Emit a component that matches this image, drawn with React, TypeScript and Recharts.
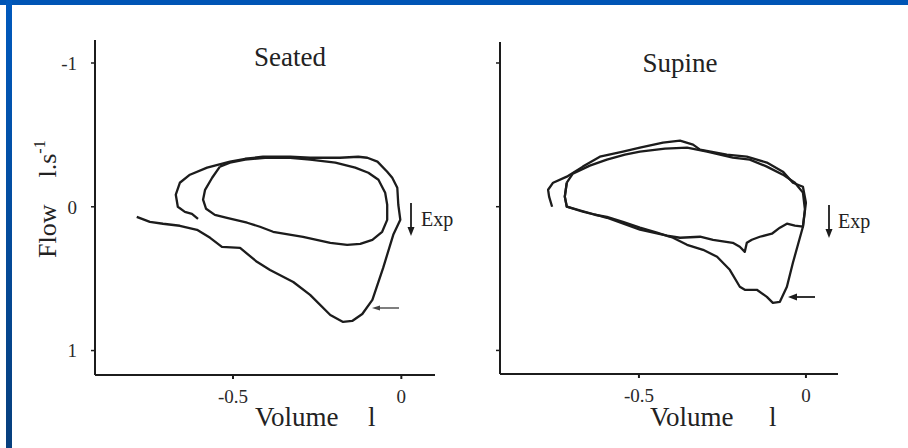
import React from "react";
import { ScatterChart, Scatter, XAxis, YAxis } from "recharts";

// flow-volume loops, [volume l, flow l/s] (expiration = positive, drawn downward)
const seatedMax: [number, number][] = [
  [-0.786, 0.07], [-0.747, 0.105], [-0.708, 0.118], [-0.658, 0.132], [-0.607, 0.16],
  [-0.568, 0.216], [-0.533, 0.279], [-0.479, 0.286], [-0.429, 0.383], [-0.39, 0.439],
  [-0.321, 0.523], [-0.271, 0.613], [-0.211, 0.753], [-0.173, 0.801], [-0.146, 0.794],
  [-0.116, 0.746], [-0.086, 0.648], [-0.054, 0.425], [-0.024, 0.195], [-0.003, 0.091],
  [-0.009, -0.014], [-0.012, -0.132], [-0.027, -0.202], [-0.042, -0.244], [-0.071, -0.314],
  [-0.101, -0.341], [-0.128, -0.348], [-0.182, -0.341], [-0.271, -0.341], [-0.33, -0.348],
  [-0.411, -0.348], [-0.464, -0.334], [-0.509, -0.314], [-0.577, -0.272], [-0.628, -0.223],
  [-0.658, -0.167], [-0.67, -0.084], [-0.664, 0.0], [-0.643, 0.035], [-0.622, 0.049],
  [-0.604, 0.084],
];

const seatedTidal: [number, number][] = [
  [-0.539, -0.279], [-0.562, -0.202], [-0.583, -0.118], [-0.589, -0.049], [-0.58, 0.014],
  [-0.554, 0.056], [-0.518, 0.077], [-0.458, 0.111], [-0.42, 0.139], [-0.381, 0.174],
  [-0.292, 0.209], [-0.211, 0.251], [-0.161, 0.265], [-0.122, 0.258], [-0.086, 0.23],
  [-0.057, 0.174], [-0.042, 0.091], [-0.042, -0.014], [-0.048, -0.098], [-0.068, -0.188],
  [-0.098, -0.237], [-0.137, -0.272], [-0.196, -0.307], [-0.271, -0.328], [-0.33, -0.341],
  [-0.405, -0.341], [-0.464, -0.328], [-0.509, -0.307], [-0.539, -0.279],
];

const supineMax: [number, number][] = [
  [-0.76, 0.0], [-0.769, -0.07], [-0.772, -0.118], [-0.757, -0.167], [-0.716, -0.209],
  [-0.668, -0.279], [-0.617, -0.348], [-0.548, -0.383], [-0.497, -0.411], [-0.428, -0.446],
  [-0.377, -0.46], [-0.338, -0.432], [-0.317, -0.397], [-0.237, -0.362], [-0.177, -0.348],
  [-0.117, -0.307], [-0.069, -0.244], [-0.039, -0.167], [-0.009, -0.139], [0.0, -0.028],
  [-0.009, 0.139], [-0.024, 0.265], [-0.039, 0.39], [-0.057, 0.557], [-0.078, 0.662],
  [-0.099, 0.669], [-0.117, 0.627], [-0.147, 0.578], [-0.183, 0.578], [-0.198, 0.557],
  [-0.228, 0.439], [-0.266, 0.348], [-0.308, 0.3], [-0.356, 0.265], [-0.398, 0.216],
  [-0.446, 0.181], [-0.497, 0.146], [-0.548, 0.105], [-0.596, 0.07], [-0.632, 0.056],
  [-0.668, 0.035], [-0.716, 0.0], [-0.722, -0.07], [-0.716, -0.167],
];

const supineTidal: [number, number][] = [
  [-0.716, -0.167], [-0.698, -0.23], [-0.647, -0.286], [-0.596, -0.328], [-0.542, -0.362],
  [-0.497, -0.383], [-0.422, -0.404], [-0.356, -0.411], [-0.296, -0.383], [-0.219, -0.341],
  [-0.168, -0.328], [-0.117, -0.279], [-0.069, -0.223], [-0.033, -0.167], [-0.009, -0.098],
  [-0.003, 0.021], [-0.009, 0.139], [-0.033, 0.132], [-0.057, 0.118], [-0.078, 0.146],
  [-0.102, 0.188], [-0.138, 0.209], [-0.162, 0.23], [-0.177, 0.251], [-0.183, 0.314],
  [-0.198, 0.279], [-0.219, 0.251], [-0.278, 0.23], [-0.317, 0.209], [-0.377, 0.216],
  [-0.416, 0.202], [-0.497, 0.16], [-0.596, 0.077], [-0.662, 0.035], [-0.716, 0.0],
  [-0.722, -0.07], [-0.716, -0.167],
];

const volumeTicks = [-0.5, 0];
const flowTicks = [-1, 0, 1];

const ink = "#1c1c1c";
const serif = "'Liberation Serif', 'DejaVu Serif', serif";

const toPts = (arr: [number, number][]) => arr.map(([v, f]) => ({ v, f }));
const noDot = () => <g />;

type PanelProps = {
  left: number;
  margin: { top: number; right: number; left: number; bottom: number };
  xDomain: [number, number];
  yDomain: [number, number];
  showFlowTicks: boolean;
  curves: [number, number][][];
};

function Panel({ left, margin, xDomain, yDomain, showFlowTicks, curves }: PanelProps) {
  const tickStyle = { fontSize: 19, fill: "#2a2a2a", fontFamily: serif };
  return (
    <div style={{ position: "absolute", left, top: 0 }}>
      <ScatterChart width={454} height={448} margin={margin}>
        <XAxis
          type="number"
          dataKey="v"
          domain={xDomain}
          ticks={volumeTicks}
          allowDataOverflow
          height={30}
          tickSize={4}
          tickMargin={11}
          axisLine={{ stroke: ink, strokeWidth: 2 }}
          tickLine={{ stroke: ink, strokeWidth: 2 }}
          tick={tickStyle}
        />
        <YAxis
          type="number"
          dataKey="f"
          domain={yDomain}
          ticks={flowTicks}
          reversed
          allowDataOverflow
          width={showFlowTicks ? 30 : 10}
          tickSize={4}
          tickMargin={14}
          tickFormatter={showFlowTicks ? (t: number) => String(t) : () => ""}
          axisLine={{ stroke: ink, strokeWidth: 2 }}
          tickLine={{ stroke: ink, strokeWidth: 1.5 }}
          tick={tickStyle}
        />
        {curves.map((c, i) => (
          <Scatter
            key={i}
            data={toPts(c)}
            line={{ stroke: ink, strokeWidth: 2.3, strokeLinejoin: "round" }}
            lineJointType="linear"
            shape={noDot}
            isAnimationActive={false}
          />
        ))}
      </ScatterChart>
    </div>
  );
}

function Arrow({ x1, y1, x2, y2 }: { x1: number; y1: number; x2: number; y2: number }) {
  const ang = Math.atan2(y2 - y1, x2 - x1);
  const L = 9, W = 3.5;
  const bx = x2 - L * Math.cos(ang), by = y2 - L * Math.sin(ang);
  const px = -Math.sin(ang) * W, py = Math.cos(ang) * W;
  return (
    <g>
      <line x1={x1} y1={y1} x2={bx} y2={by} stroke={ink} strokeWidth={1.8} />
      <polygon points={`${x2},${y2} ${bx + px},${by + py} ${bx - px},${by - py}`} fill={ink} />
    </g>
  );
}

export default function App() {
  return (
    <div
      style={{
        position: "absolute",
        left: 0,
        top: 0,
        width: 908,
        height: 448,
        background: "#fff",
        overflow: "hidden",
      }}
    >
      <Panel
        left={0}
        margin={{ top: 40, right: 19, left: 65, bottom: 43 }}
        xDomain={[-0.91, 0.1]}
        yDomain={[-1.16, 1.17]}
        showFlowTicks
        curves={[seatedMax, seatedTidal]}
      />
      <Panel
        left={454}
        margin={{ top: 42, right: 70, left: 36, bottom: 44 }}
        xDomain={[-0.916, 0.096]}
        yDomain={[-1.146, 1.164]}
        showFlowTicks={false}
        curves={[supineMax, supineTidal]}
      />
      <svg
        width={908}
        height={448}
        style={{ position: "absolute", left: 0, top: 0, pointerEvents: "none" }}
      >
        <defs>
          <linearGradient id="frame" x1="0" y1="0" x2="0" y2="1">
            <stop offset="0%" stopColor="#0059bd" />
            <stop offset="100%" stopColor="#073f7d" />
          </linearGradient>
        </defs>
        <rect x={0} y={0} width={908} height={5} fill="#0055b5" />
        <rect x={6} y={0} width={6} height={448} fill="url(#frame)" />

        <g fontFamily={serif} fill="#222">
          <text x={290} y={66} fontSize={27} textAnchor="middle">Seated</text>
          <text x={680} y={72} fontSize={27} textAnchor="middle">Supine</text>
          <text x={421} y={226} fontSize={20}>Exp</text>
          <text x={838} y={228} fontSize={20}>Exp</text>
          <text x={255} y={426} fontSize={27}>Volume</text>
          <text x={368} y={426} fontSize={27}>l</text>
          <text x={650} y={426} fontSize={27}>Volume</text>
          <text x={769} y={426} fontSize={27}>l</text>
          <text transform="translate(56,258) rotate(-90)" fontSize={26}>
            Flow
            <tspan dx={27}>l.s</tspan>
            <tspan dy={-11} fontSize={16}>-1</tspan>
          </text>
        </g>

        <Arrow x1={411} y1={203} x2={411} y2={236} />
        <Arrow x1={829} y1={205} x2={829} y2={238} />
        <line x1={378} y1={308} x2={399} y2={308} stroke="#555" strokeWidth={1.5} />
        <polygon points="372,308 380,305.5 380,310.5" fill="#444" />
        <Arrow x1={815} y1={297} x2={788} y2={297} />
      </svg>
    </div>
  );
}
